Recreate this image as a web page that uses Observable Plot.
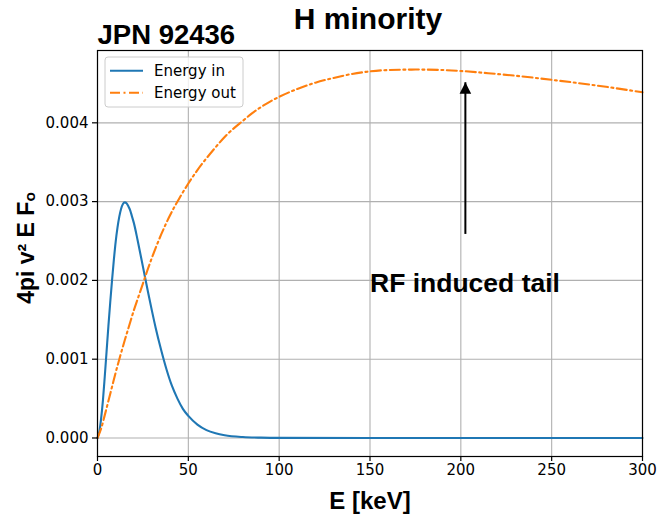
<!DOCTYPE html>
<html><head><meta charset="utf-8">
<script src="https://cdn.jsdelivr.net/npm/d3@7"></script>
<script src="https://cdn.jsdelivr.net/npm/@observablehq/plot@0.6"></script>
<style>body{margin:0;background:#fff}#chart{position:relative;width:658px;height:518px}</style>
</head><body><div id="chart"></div>
<script>
// ---- data ----
const energyInE = [0,1,2,3,4,5,6,7,8,9,10,11,12,13,14,15,16,17,18,19,20,22,24,26,28,30,32,35,38,41,44,47,50,55,60,65,70,80,90,100,150,200,250,300];
const energyInF = [0,0.00008,0.00025,0.00048,0.00078,0.00110,0.00142,0.00172,0.00200,0.00226,0.00249,0.00267,0.00281,0.00291,0.00297,0.00299,0.00298,0.00294,0.00289,0.00281,0.00273,0.00252,0.00229,0.00206,0.00183,0.00161,0.00140,0.00112,0.00087,0.00066,0.00050,0.00037,0.00028,0.00017,0.00010,0.00006,0.000035,0.000012,0.000004,0.000001,0,0,0,0];
const energyOutE = [0,2,4,6,8,10,12.5,15,17.5,20,22.5,25,27.5,30,32.5,35,37.5,40,45,50,55,60,65,70,75,80,85,90,95,100,110,120,130,140,150,160,175,190,200,215,230,250,275,300];
const energyOutF = [0,0.00012,0.00029,0.00047,0.00065,0.00083,0.00104,0.00124,0.00143,0.00162,0.00179,0.00196,0.00213,0.00229,0.00244,0.00258,0.00271,0.00283,0.00304,0.00323,0.0034,0.00355,0.00369,0.00382,0.00393,0.004025,0.00412,0.0042,0.00427,0.00433,0.00443,0.00451,0.00457,0.00462,0.004653,0.00467,0.004676,0.00467,0.004658,0.00463,0.004598,0.004546,0.004473,0.004388];
const seriesNames = ["Energy in", "Energy out"];
const seriesColors = ["#1f77b4", "#ff7f0e"];
const xTicks = [0,50,100,150,200,250,300];
const yTicks = [0,0.001,0.002,0.003,0.004];
const titleText = "H minority";
const shotText = "JPN 92436";
const xLabel = "E [keV]";
const yLabel = "4pi v\u00b2 E F\u2092";
const annotText = "RF induced tail";
const annotE = 150, annotF = 0.00185;
const arrowE = 202.5, arrowFromF = 0.00259, arrowToF = 0.004515;

// ---- tables ----
const inData = energyInE.map((e, i) => ({E: e, F: energyInF[i]}));
const outData = energyOutE.map((e, i) => ({E: e, F: energyOutF[i]}));
const arrowData = [{x: arrowE, y1: arrowFromF, y2: arrowToF}];
const annotData = [{x: annotE, y: annotF, t: annotText}];

const bold = "Liberation Sans, Arial, Helvetica, sans-serif";
const dashDot = "10,3.5,2,3.5";
const arrowHead = {draw(ctx, l, r) { ctx.moveTo(-r, 0); ctx.lineTo(0, -l); ctx.lineTo(r, 0); ctx.closePath(); }};

const plot = Plot.plot({
  width: 658, height: 518,
  marginLeft: 97, marginRight: 16, marginTop: 50, marginBottom: 62,
  style: {fontFamily: "DejaVu Sans, sans-serif", fontSize: "15px", background: "white", color: "black", overflow: "visible"},
  x: {domain: [0, 300], label: null},
  y: {domain: [-0.000235, 0.004918], label: null},
  marks: [
    Plot.gridX(xTicks, {stroke: "#b0b0b0", strokeOpacity: 1, strokeWidth: 1.1}),
    Plot.gridY(yTicks, {stroke: "#b0b0b0", strokeOpacity: 1, strokeWidth: 1.1}),
    Plot.line(inData, {x: "E", y: "F", stroke: seriesColors[0], strokeWidth: 2.1, curve: "monotone-x"}),
    Plot.line(outData, {x: "E", y: "F", stroke: seriesColors[1], strokeWidth: 2.1, strokeDasharray: dashDot, curve: "monotone-x"}),
    Plot.link(arrowData, {x1: "x", x2: "x", y1: "y1", y2: "y2", stroke: "black", strokeWidth: 2}),
    Plot.vector(arrowData, {x: "x", y: "y2", length: 11.6, r: 5.8, rotate: 0, anchor: "end", shape: arrowHead, fill: "black", stroke: "none"}),
    Plot.text(annotData, {x: "x", y: "y", text: "t", textAnchor: "start", lineAnchor: "bottom", fontSize: 26.5, fontWeight: "bold", fontFamily: bold}),
    Plot.axisX(xTicks, {tickSize: 5, tickPadding: 3, label: null, fontSize: 15, strokeWidth: 1.2}),
    Plot.axisY(yTicks, {tickSize: 5, tickPadding: 4, label: null, fontSize: 15, strokeWidth: 1.2, tickFormat: d3.format(".3f")}),
    Plot.frame({stroke: "black", strokeWidth: 1.2}),
    Plot.text([titleText], {text: d => d, frameAnchor: "top", dx: -2, dy: -21.5, lineAnchor: "bottom", fontSize: 30, fontWeight: "bold", fontFamily: bold}),
    Plot.text([shotText], {text: d => d, frameAnchor: "top-left", textAnchor: "start", dx: 0, dy: -6.5, lineAnchor: "bottom", fontSize: 27.5, fontWeight: "bold", fontFamily: bold}),
    Plot.text([xLabel], {text: d => d, frameAnchor: "bottom", dy: 52, lineAnchor: "bottom", fontSize: 24, fontWeight: "bold", fontFamily: bold}),
    Plot.text([yLabel], {text: d => d, frameAnchor: "left", rotate: -90, textAnchor: "middle", lineAnchor: "bottom", dx: -64, dy: -5.5, fontSize: 23, fontWeight: "bold", fontFamily: bold})
  ]
});

// legend (inside the axes, upper left)
const svg = d3.select(plot);
const lg = svg.append("g").attr("font-family", "DejaVu Sans, sans-serif").attr("font-size", 15).attr("text-anchor", "start");
lg.append("rect").attr("x", 105).attr("y", 57).attr("width", 138).attr("height", 50).attr("rx", 3)
  .attr("fill", "white").attr("fill-opacity", 0.8).attr("stroke", "#cccccc");
seriesNames.forEach((name, i) => {
  const y = 70.7 + i * 22;
  lg.append("line").attr("x1", 110).attr("x2", 143).attr("y1", y).attr("y2", y)
    .attr("stroke", seriesColors[i]).attr("stroke-width", 2.1)
    .attr("stroke-dasharray", i === 1 ? dashDot : null);
  lg.append("text").attr("x", 154).attr("y", y + 5.3).attr("fill", "black").attr("text-anchor", "start").text(name);
});

document.getElementById("chart").appendChild(plot);
</script>
</body></html>
